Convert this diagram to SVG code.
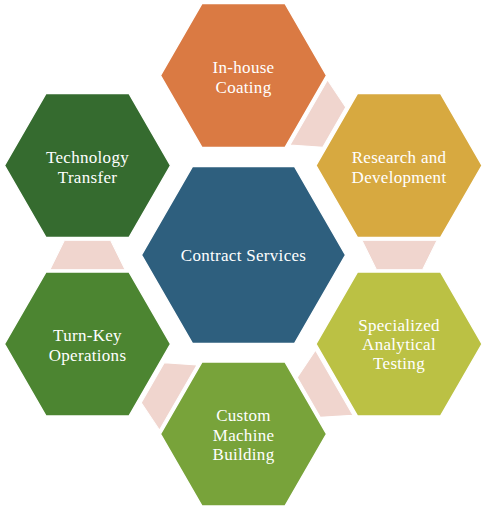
<svg xmlns="http://www.w3.org/2000/svg" xmlns:xlink="http://www.w3.org/1999/xlink" width="488" height="510" viewBox="0 0 488 510">
  <defs>
    <polygon id="hexO" points="-83,0 -41.5,-72 41.5,-72 83,0 41.5,72 -41.5,72"/>
    <polygon id="hexC" points="-102,0 -51,-88.5 51,-88.5 102,0 51,88.5 -51,88.5"/>
    <polygon id="conn" points="118.5,-14.7 193.5,-14.7 179,14.7 133,14.7"/>
    <style>
      .hex { stroke: #ffffff; stroke-width: 1.5; }
      .conn { fill: #F0D5CE; stroke: #ffffff; stroke-width: 1; }
      .lbl { font-family: "Liberation Serif", "Times New Roman", serif; font-size: 17px; fill: #ffffff; text-anchor: middle; letter-spacing: 0.3px; }
    </style>
  </defs>
  <rect width="488" height="510" fill="#ffffff"/>

  <g id="connectors" transform="translate(243.5,255)">
    <use xlink:href="#conn" href="#conn" class="conn" transform="rotate(-60)"/>
    <use xlink:href="#conn" href="#conn" class="conn"/>
    <use xlink:href="#conn" href="#conn" class="conn" transform="rotate(60)"/>
    <use xlink:href="#conn" href="#conn" class="conn" transform="rotate(120)"/>
    <use xlink:href="#conn" href="#conn" class="conn" transform="rotate(180)"/>
  </g>

  <g id="node-center" transform="translate(243.5,255)">
    <use xlink:href="#hexC" href="#hexC" class="hex" fill="#2E5F7E"/>
    <text class="lbl" x="0" y="6">Contract Services</text>
  </g>

  <g id="node-coating" transform="translate(243.5,75.5)">
    <use xlink:href="#hexO" href="#hexO" class="hex" fill="#DA7A43"/>
    <text class="lbl" x="0" y="-3">In-house</text>
    <text class="lbl" x="0" y="17">Coating</text>
  </g>

  <g id="node-research" transform="translate(399,165.5)">
    <use xlink:href="#hexO" href="#hexO" class="hex" fill="#D7A940"/>
    <text class="lbl" x="0" y="-3">Research and</text>
    <text class="lbl" x="0" y="17">Development</text>
  </g>

  <g id="node-testing" transform="translate(399,344)">
    <use xlink:href="#hexO" href="#hexO" class="hex" fill="#BBC144"/>
    <text class="lbl" x="0" y="-13">Specialized</text>
    <text class="lbl" x="0" y="6">Analytical</text>
    <text class="lbl" x="0" y="25">Testing</text>
  </g>

  <g id="node-machine" transform="translate(243.5,434)">
    <use xlink:href="#hexO" href="#hexO" class="hex" fill="#78A33A"/>
    <text class="lbl" x="0" y="-13">Custom</text>
    <text class="lbl" x="0" y="6.5">Machine</text>
    <text class="lbl" x="0" y="26">Building</text>
  </g>

  <g id="node-turnkey" transform="translate(87.5,344)">
    <use xlink:href="#hexO" href="#hexO" class="hex" fill="#4C8531"/>
    <text class="lbl" x="0" y="-3">Turn-Key</text>
    <text class="lbl" x="0" y="17">Operations</text>
  </g>

  <g id="node-transfer" transform="translate(87.5,165.5)">
    <use xlink:href="#hexO" href="#hexO" class="hex" fill="#356B2F"/>
    <text class="lbl" x="0" y="-3">Technology</text>
    <text class="lbl" x="0" y="17">Transfer</text>
  </g>
</svg>
